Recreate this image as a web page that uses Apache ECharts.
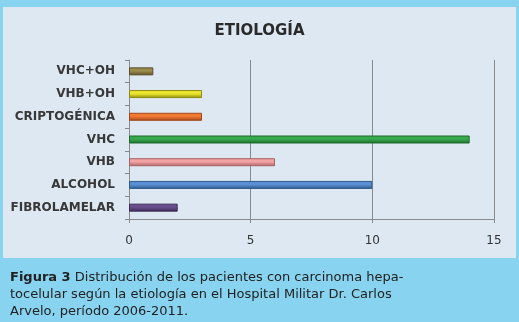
<!DOCTYPE html>
<html>
<head>
<meta charset="utf-8">
<script src="https://cdn.jsdelivr.net/npm/echarts@6/dist/echarts.min.js"></script>
<style>
  html, body { margin: 0; padding: 0; background: #88d3f0; }
  #chart { width: 519px; height: 322px; }
</style>
</head>
<body>
<div id="chart"></div>
<script>
// datos del gráfico
var categorias = ['FIBROLAMELAR', 'ALCOHOL', 'VHB', 'VHC', 'CRIPTOGÉNICA', 'VHB+OH', 'VHC+OH'];
var pacientes = [2, 10, 6, 14, 3, 3, 1];
var colores = ['#6a4f8c', '#5a8fd2', '#f2a3a3', '#38a94c', '#f07a32', '#ece62c', '#9c8b4e'];
var bordes = ['#3c2a55', '#2f5a8e', '#a86262', '#1d6b2c', '#a4461a', '#8e8a10', '#5c5028'];
var ticksX = [0, 5, 10, 15];

var myChart = echarts.init(document.getElementById('chart'));

var datos = [];
for (var i = 0; i < pacientes.length; i++) {
  datos.push({
    value: pacientes[i],
    itemStyle: {
      color: new echarts.graphic.LinearGradient(0, 0, 0, 1, [
        { offset: 0, color: colores[i] },
        { offset: 0.45, color: colores[i] },
        { offset: 1, color: bordes[i] }
      ]),
      borderColor: bordes[i],
      borderWidth: 1
    }
  });
}

var option = {
  backgroundColor: '#88d3f0',
  graphic: [
    {
      type: 'rect',
      shape: { x: 3, y: 7, width: 513, height: 251 },
      style: { fill: '#dde8f2' },
      z: -10
    },
    {
      type: 'text',
      left: 10,
      top: 269,
      style: {
        text: '{b|Figura 3} Distribución de los pacientes con carcinoma hepa-\ntocelular según la etiología en el Hospital Militar Dr. Carlos\nArvelo, período 2006-2011.',
        fill: '#222',
        font: '13px "DejaVu Sans", sans-serif',
        lineHeight: 17,
        rich: {
          b: { fontWeight: 'bold', fill: '#222', fontSize: 13, lineHeight: 17, fontFamily: '"DejaVu Sans", sans-serif' }
        }
      }
    }
  ],
  title: {
    text: 'ETIOLOGÍA',
    left: 'center',
    top: 19,
    textStyle: { fontSize: 15, fontWeight: 'bold', color: '#2a2a2a', fontFamily: '"DejaVu Sans", sans-serif' }
  },
  grid: { left: 129, right: 25, top: 60, bottom: 103 },
  xAxis: {
    type: 'value',
    min: 0,
    max: 15,
    interval: 5,
    axisLine: { show: true, lineStyle: { color: '#8a8a8a' } },
    axisTick: { show: true, length: 4, lineStyle: { color: '#8a8a8a' } },
    splitLine: { show: true, lineStyle: { color: '#8a8a8a', width: 1 } },
    axisLabel: {
      color: '#333',
      fontSize: 12,
      margin: 16,
      fontFamily: '"DejaVu Sans", sans-serif',
      formatter: function (v) { return ticksX.indexOf(v) >= 0 ? String(v) : ''; }
    }
  },
  yAxis: {
    type: 'category',
    data: categorias,
    axisLine: { show: true, lineStyle: { color: '#8a8a8a' } },
    axisTick: { show: true, length: 4, lineStyle: { color: '#8a8a8a' } },
    axisLabel: {
      color: '#383838',
      fontSize: 12,
      fontWeight: 'bold',
      margin: 14,
      fontFamily: '"DejaVu Sans", sans-serif'
    }
  },
  series: [{
    type: 'bar',
    barWidth: 8,
    data: datos,
    animation: false
  }]
};

myChart.setOption(option);
</script>
</body>
</html>
